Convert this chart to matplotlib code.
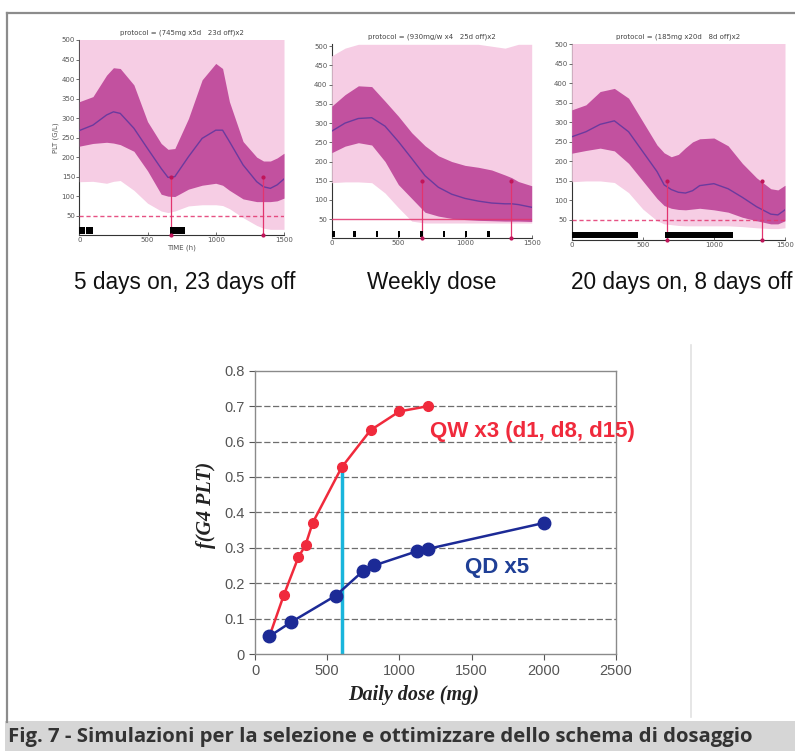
import matplotlib
matplotlib.use("Agg")
import matplotlib.pyplot as plt
from matplotlib.lines import Line2D
from matplotlib.patches import Rectangle

# ---------------- data: top simulation panels ----------------
titles = ["protocol = (745mg x5d   23d off)x2",
          "protocol = (930mg/w x4   25d off)x2",
          "protocol = (185mg x20d   8d off)x2"]
captions = ["5 days on, 23 days off", "Weekly dose", "20 days on, 8 days off"]

t1 = [0, 100, 200, 250, 300, 400, 500, 600, 650, 700, 800, 900, 1000, 1050, 1100, 1200, 1300, 1350, 1400, 1450, 1500]
med1 = [268, 282, 308, 316, 312, 274, 222, 171, 148, 150, 201, 248, 269, 269, 240, 180, 137, 124, 120, 129, 144]
dup1 = [342, 355, 410, 429, 427, 385, 291, 235, 220, 222, 299, 398, 440, 427, 342, 240, 200, 190, 190, 198, 210]
dlo1 = [228, 235, 238, 236, 232, 215, 165, 105, 100, 99, 118, 128, 133, 128, 115, 93, 86, 86, 86, 88, 95]
llo1 = [137, 138, 133, 138, 140, 115, 82, 62, 58, 62, 75, 78, 78, 76, 68, 45, 25, 18, 15, 15, 15]
lup1 = [510, 510, 510, 510, 510, 510, 510, 510, 510, 510, 510, 510, 510, 510, 510, 510, 510, 510, 510, 510, 510]

t2 = [0, 100, 200, 300, 400, 500, 600, 700, 800, 900, 1000, 1100, 1200, 1300, 1350, 1400, 1500]
med2 = [279, 300, 312, 314, 292, 252, 208, 163, 133, 115, 104, 97, 92, 90, 90, 88, 81]
dup2 = [344, 374, 397, 395, 357, 318, 275, 241, 215, 200, 190, 185, 178, 165, 158, 148, 137]
dlo2 = [223, 240, 249, 243, 200, 140, 104, 68, 58, 52, 49, 47, 46, 45, 45, 45, 44]
llo2 = [145, 147, 147, 145, 118, 80, 45, 40, 40, 40, 40, 40, 40, 40, 40, 40, 40]
lup2 = [475, 495, 505, 505, 505, 505, 505, 505, 505, 505, 505, 505, 500, 495, 500, 505, 505]

t3 = [0, 100, 200, 300, 400, 500, 600, 650, 700, 750, 800, 850, 900, 1000, 1100, 1200, 1300, 1400, 1450, 1500]
med3 = [263, 276, 295, 304, 276, 225, 174, 140, 128, 121, 119, 125, 138, 143, 130, 108, 84, 65, 63, 76]
dup3 = [332, 345, 379, 387, 362, 302, 242, 222, 212, 218, 235, 250, 258, 260, 240, 195, 158, 130, 127, 139]
dlo3 = [221, 228, 234, 227, 195, 150, 105, 87, 80, 77, 76, 78, 80, 76, 70, 57, 48, 40, 40, 48]
llo3 = [148, 150, 150, 146, 120, 78, 48, 40, 38, 36, 35, 35, 35, 35, 35, 33, 30, 28, 28, 30]
lup3 = [510, 510, 510, 510, 510, 510, 510, 510, 510, 510, 510, 510, 510, 510, 510, 510, 510, 510, 510, 510]

# dosing periods (start, end) in hours
dose1 = [(0, 45), (50, 100), (665, 775)]
dose2 = [(5, 22), (162, 179), (329, 346), (497, 514), (664, 681), (832, 849), (999, 1016), (1167, 1184)]
dose3 = [(0, 464), (656, 1132)]
marks1 = [670, 1345]
marks2 = [675, 1342]
marks3 = [668, 1336]
threshold = 50
mark_top = 150

# ---------------- data: bottom dose-response ----------------
qw_dose = [100, 200, 300, 350, 400, 600, 800, 1000, 1200]
qw_f = [0.05, 0.167, 0.273, 0.308, 0.371, 0.527, 0.632, 0.685, 0.70]
qd_dose = [100, 250, 560, 750, 825, 1120, 1200, 2000]
qd_f = [0.05, 0.09, 0.165, 0.235, 0.25, 0.29, 0.297, 0.37]
sel_dose = 600
sel_f = 0.52

# ---------------- figure ----------------
W, H = 795, 751
fig = plt.figure(figsize=(W / 100, H / 100), dpi=100)
fig.patch.set_facecolor("white")

def fr(px_l, px_t, px_r, px_b):
    return [px_l / W, 1 - px_b / H, (px_r - px_l) / W, (px_b - px_t) / H]

LIGHT = "#f6cde4"
DARK = "#c2519f"
MED = "#6b3a9e"
RED = "#e2346e"
TICKC = "#555555"

panels = [
    dict(rect=fr(79.3, 40, 284, 235.2), t=t1, med=med1, dup=dup1, dlo=dlo1, llo=llo1, lup=lup1,
         dose=dose1, marks=marks1, dashed=True, ylim=500, title_y=33),
    dict(rect=fr(331.7, 44.3, 531.7, 238.4), t=t2, med=med2, dup=dup2, dlo=dlo2, llo=llo2, lup=lup2,
         dose=dose2, marks=marks2, dashed=False, ylim=505, title_y=37),
    dict(rect=fr(571.7, 44.3, 785, 239.5), t=t3, med=med3, dup=dup3, dlo=dlo3, llo=llo3, lup=lup3,
         dose=dose3, marks=marks3, dashed=True, ylim=500, title_y=37),
]

for i, p in enumerate(panels):
    ax = fig.add_axes(p["rect"])
    ax.set_xlim(0, 1500)
    ax.set_ylim(0, p["ylim"])
    ax.fill_between(p["t"], p["llo"], p["lup"], color=LIGHT, lw=0, zorder=1)
    ax.fill_between(p["t"], p["dlo"], p["dup"], color=DARK, lw=0, zorder=2)
    ax.plot(p["t"], p["med"], color=MED, lw=1.0, zorder=3)
    ax.axhline(threshold, color=RED, lw=1.0, ls=(0, (3, 2)) if p["dashed"] else "-", zorder=4, alpha=0.85)
    for m in p["marks"]:
        ax.plot([m, m], [0, mark_top], color=RED, lw=0.9, zorder=4)
        ax.plot([m], [mark_top], "o", color="#c0155a", ms=2, zorder=5)
        ax.plot([m], [0], "o", color="#c0155a", ms=2, zorder=5, clip_on=False)
    for (a, b) in p["dose"]:
        ax.add_patch(Rectangle((a, 3), b - a, 17, color="black", lw=0, zorder=4))
    for s in ["top", "right"]:
        ax.spines[s].set_visible(False)
    for s in ["left", "bottom"]:
        ax.spines[s].set_color("#333333")
        ax.spines[s].set_linewidth(0.8)
        ax.spines[s].set_zorder(0.5)
    ax.set_yticks(list(range(50, 501, 50)))
    ax.set_xticks([0, 500, 1000, 1500])
    ax.tick_params(axis="y", labelsize=5, length=2, width=0.6, pad=1, colors=TICKC)
    ax.tick_params(axis="x", labelsize=5, length=2, width=0.6, pad=1.5, direction="in", colors=TICKC)
    cx = p["rect"][0] + p["rect"][2] / 2
    fig.text(cx, 1 - p["title_y"] / H, titles[i], ha="center", va="center", fontsize=5, color="#444444")
    if i == 0:
        ax.set_ylabel("PLT (G/L)", fontsize=5, labelpad=2, color=TICKC)
        ax.set_xlabel("TIME (h)", fontsize=5, labelpad=1, color=TICKC)

cap_x = [185, 432, 682]
for cx, txt in zip(cap_x, captions):
    fig.text(cx / W, 1 - 283 / H, txt, ha="center", va="center", fontsize=16.3,
             family="Liberation Sans", color="#111111")

# ---------------- bottom chart ----------------
ax2 = fig.add_axes(fr(255, 370.7, 616, 654))
ax2.set_xlim(0, 2500)
ax2.set_ylim(0, 0.8)
ax2.set_yticks([0, 0.1, 0.2, 0.3, 0.4, 0.5, 0.6, 0.7, 0.8])
ax2.set_yticklabels(["0", "0.1", "0.2", "0.3", "0.4", "0.5", "0.6", "0.7", "0.8"])
ax2.set_xticks([0, 500, 1000, 1500, 2000, 2500])
for y in [0.1, 0.2, 0.3, 0.4, 0.5, 0.6, 0.7]:
    ax2.axhline(y, color="#6e6e6e", lw=0.9, ls=(0, (5, 2)), zorder=1)
for s in ax2.spines.values():
    s.set_color("#8a8a8a")
    s.set_linewidth(1.0)
ax2.tick_params(labelsize=10.5, colors="#555555", length=4, width=0.8)
for lab in ax2.get_xticklabels() + ax2.get_yticklabels():
    lab.set_family("Liberation Sans")
ax2.plot([sel_dose, sel_dose], [0, sel_f], color="#1ab5dc", lw=2.5, zorder=2)
ax2.plot(qw_dose, qw_f, color="#f02a3c", lw=1.8, marker="o", ms=7, zorder=3)
ax2.plot(qd_dose, qd_f, color="#1c2a96", lw=1.8, marker="o", ms=9, zorder=4)
ax2.text(1212, 0.627, "QW x3 (d1, d8, d15)", color="#f02a3c", fontsize=16, fontweight="bold",
         family="Liberation Sans", va="center", ha="left", clip_on=False)
ax2.text(1676, 0.243, "QD x5", color="#1f3f96", fontsize=16, fontweight="bold",
         family="Liberation Sans", va="center", ha="center")
fig.text(414 / W, 1 - 695 / H, "Daily dose (mg)", fontsize=14.5, fontweight="bold", fontstyle="italic",
         family="Liberation Serif", color="#222222", ha="center", va="center")
fig.text(206 / W, 1 - 505 / H, "f(G4 PLT)", fontsize=14.5, fontweight="bold", fontstyle="italic",
         family="Liberation Serif", color="#222222", ha="center", va="center", rotation=90)

# ---------------- frame and caption ----------------
fig.add_artist(Line2D([7 / W, 7 / W], [1 - 13 / H, 1 - 722 / H], color="#8c8c8c", lw=1.6))
fig.add_artist(Line2D([7 / W, 1], [1 - 13 / H, 1 - 13 / H], color="#8c8c8c", lw=1.6))
fig.add_artist(Line2D([691 / W, 691 / W], [1 - 345 / H, 1 - 717 / H], color="#e2e2e2", lw=1.2))
fig.add_artist(Rectangle((5 / W, 0), 1 - 5 / W, (751 - 721) / H, transform=fig.transFigure,
                         color="#d6d6d6", lw=0))
fig.text(8 / W, 1 - 737 / H, "Fig. 7 - Simulazioni per la selezione e ottimizzare dello schema di dosaggio",
         fontsize=14.7, fontweight="bold", family="Open Sans", color="#333333", va="center", ha="left")

fig.savefig("out.png", dpi=100)
